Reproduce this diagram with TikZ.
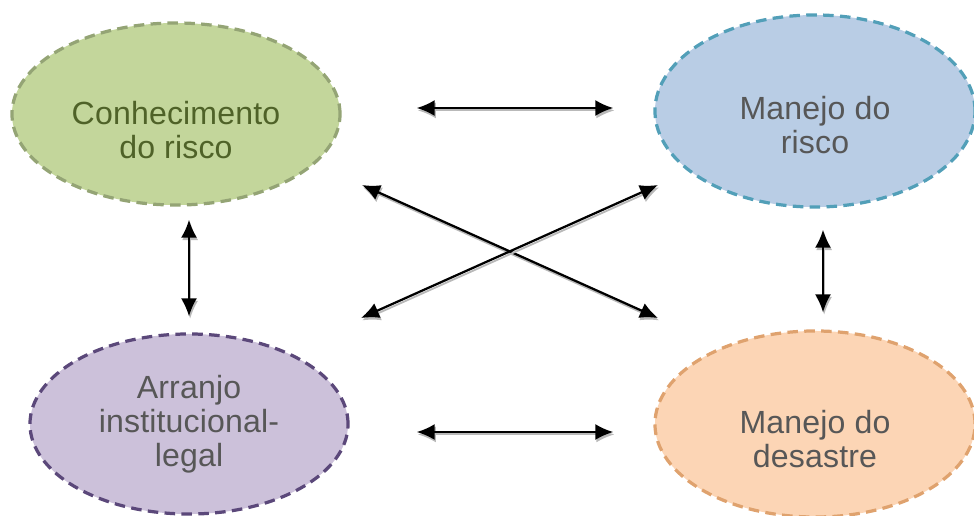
\documentclass[tikz,border=0pt]{standalone}
\usepackage{fontspec}
\setmainfont{Liberation Sans}[LetterSpace=0.5]
\usetikzlibrary{arrows.meta,positioning,shapes.geometric}

\definecolor{greenfill}{HTML}{C3D69B}
\definecolor{greenline}{HTML}{94A475}
\definecolor{greentext}{HTML}{4F6228}
\definecolor{bluefill}{HTML}{B9CDE5}
\definecolor{blueline}{HTML}{529FB8}
\definecolor{purplefill}{HTML}{CCC1DA}
\definecolor{purpleline}{HTML}{5B487A}
\definecolor{orangefill}{HTML}{FCD5B5}
\definecolor{orangeline}{HTML}{DFA26E}
\definecolor{greytext}{HTML}{575757}

\begin{document}
\begin{tikzpicture}[x=0.025cm, y=-0.025cm,
 blob/.style = {ellipse, draw, dashed, line width=2.3pt, dash pattern=on 7.5pt off 4.5pt,
                align=center, inner sep=0pt, text=greytext,
                font=\fontsize{22.8pt}{24.2pt}\selectfont},
 link/.style = {{Latex[length=4.5mm,width=4mm]}-{Latex[length=4.5mm,width=4mm]},
                line width=1.6pt, black,
                preaction={draw=gray!55, line width=1.3pt,
                           transform canvas={xshift=0.8pt,yshift=-1.7pt}}},
                        ]
    \useasboundingbox (0,0) rectangle (974,515);

    \node [blob, fill=greenfill, draw=greenline, text=greentext,
           minimum width=8.2cm, minimum height=4.55cm]  (know)  at (176,114) {\mbox{}\\[0.55cm]Conhecimento\\ do risco};
    \node [blob, fill=bluefill, draw=blueline,
           minimum width=8cm, minimum height=4.8cm]     (mrisk) at (815,111) {\mbox{}\\[0.45cm]Manejo do\\ risco};
    \node [blob, fill=purplefill, draw=purpleline,
           minimum width=7.95cm, minimum height=4.5cm]  (inst)  at (189,424) {Arranjo\\ institucional-\\ legal};
    \node [blob, fill=orangefill, draw=orangeline,
           minimum width=8cm, minimum height=4.65cm]    (mdis)  at (815,424) {\mbox{}\\[0.48cm]Manejo do\\ desastre};

%% links
    \draw[link] ([shift={(75,-6)}]know.east)     -- ([shift={(-40,-3)}]mrisk.west);
    \draw[link] ([shift={(67,8)}]inst.east)      -- ([shift={(-40,8)}]mdis.west);
    \draw[link] ([shift={(13,13)}]know.south)    -- ([shift={(0,-16)}]inst.north);
    \draw[link] ([shift={(8,21)}]mrisk.south)    -- ([shift={(8,-17)}]mdis.north);
    \draw[link] ([shift={(186,71)}]know.center)  -- ([shift={(-157,-106)}]mdis.center);
    \draw[link] ([shift={(-157,74)}]mrisk.center) -- ([shift={(172,-106)}]inst.center);
    \end{tikzpicture}
\end{document}
